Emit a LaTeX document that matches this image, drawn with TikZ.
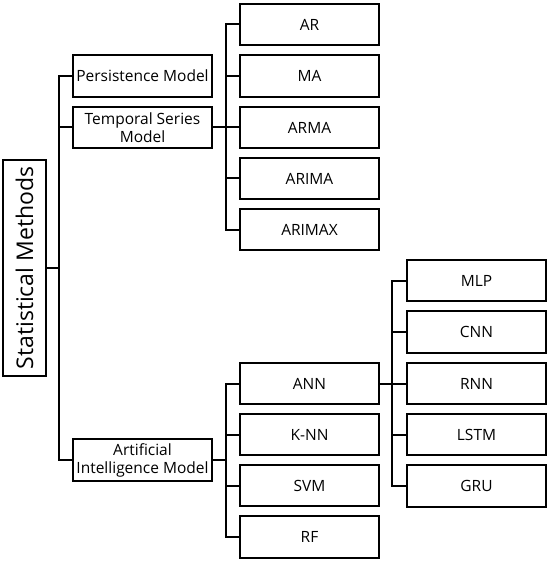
\documentclass[tikz,border=0pt]{standalone}
\usepackage{fontspec}
\setmainfont{Open Sans}
\begin{document}
\begin{tikzpicture}[x=1pt,y=-1pt,
  box/.style={draw=black,line width=2pt,fill=white,inner sep=1pt,align=center,
    font=\fontsize{15.5}{18}\selectfont,minimum height=41.5pt},
  lvone/.style={box,minimum width=139pt},
  lvtwo/.style={box,minimum width=139pt},
  conn/.style={line width=2pt}]
\useasboundingbox (0,0) rectangle (550,561);
% root
\node[draw=black,line width=2pt,rotate=90,minimum width=216pt,minimum height=43pt,inner sep=1pt,
  font=\fontsize{23}{27}\selectfont] (stat) at (24.5,268) {Statistical Methods};
% level 1
\node[lvone] (pers) at (142.5,76) {Persistence Model};
\node[lvone] (temp) at (142.5,127.5) {Temporal Series\\Model};
\node[lvone] (ai) at (142.5,460) {Artificial\\Intelligence Model};
% level 2 temporal
\node[lvtwo] (ar) at (309.5,24.5) {AR};
\node[lvtwo] (ma) at (309.5,76) {MA};
\node[lvtwo] (arma) at (309.5,127.5) {ARMA};
\node[lvtwo] (arima) at (309.5,178.5) {ARIMA};
\node[lvtwo] (arimax) at (309.5,229.5) {ARIMAX};
% level 2 AI
\node[lvtwo] (ann) at (309.5,383.5) {ANN};
\node[lvtwo] (knn) at (309.5,434.5) {K-NN};
\node[lvtwo] (svm) at (309.5,485.5) {SVM};
\node[lvtwo] (rf) at (309.5,537) {RF};
% level 3
\node[lvtwo] (mlp) at (476.5,280.5) {MLP};
\node[lvtwo] (cnn) at (476.5,332) {CNN};
\node[lvtwo] (rnn) at (476.5,383.5) {RNN};
\node[lvtwo] (lstm) at (476.5,434.5) {LSTM};
\node[lvtwo] (gru) at (476.5,486) {GRU};
% junctions
\coordinate (j1) at (59,268);
\coordinate (j2) at (226,127.5);
\coordinate (j3) at (226,460);
\coordinate (j4) at (392,383.5);
% connectors
\draw[conn] (stat.south) -- (j1);
\draw[conn] (pers.west) -| (j1) |- (ai.west);
\draw[conn] (temp.west) -- (temp.west -| j1);
\draw[conn] (temp.east) -- (j2);
\draw[conn] (ar.west) -| (j2) |- (arimax.west);
\draw[conn] (ma.west) -- (ma.west -| j2);
\draw[conn] (arma.west) -- (arma.west -| j2);
\draw[conn] (arima.west) -- (arima.west -| j2);
\draw[conn] (ai.east) -- (j3);
\draw[conn] (ann.west) -| (j3) |- (rf.west);
\draw[conn] (knn.west) -- (knn.west -| j3);
\draw[conn] (svm.west) -- (svm.west -| j3);
\draw[conn] (ann.east) -- (j4);
\draw[conn] (mlp.west) -| (j4) |- (gru.west);
\draw[conn] (cnn.west) -- (cnn.west -| j4);
\draw[conn] (rnn.west) -- (rnn.west -| j4);
\draw[conn] (lstm.west) -- (lstm.west -| j4);
\end{tikzpicture}
\end{document}
